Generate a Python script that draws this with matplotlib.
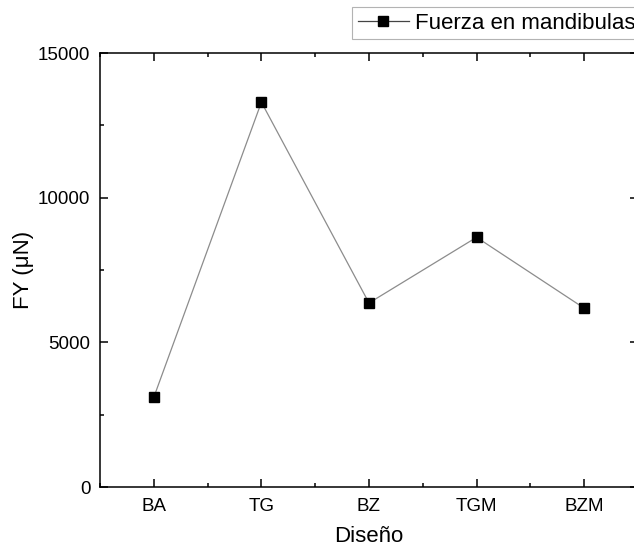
import matplotlib
matplotlib.use("Agg")
import matplotlib.pyplot as plt
from matplotlib.ticker import MultipleLocator

plt.rcParams['font.family'] = ['Liberation Sans', 'DejaVu Sans']

disenos = ["BA", "TG", "BZ", "TGM", "BZM"]
fuerza = [3100, 13300, 6360, 8630, 6180]

fig = plt.figure(figsize=(6.34, 5.51), dpi=100)
ax = fig.add_axes([100 / 634, 1 - 487 / 551, 538 / 634, 434 / 551])

x = list(range(1, len(disenos) + 1))
ax.plot(x, fuerza, color="#8c8c8c", linewidth=0.9, marker="s", markersize=7,
        markerfacecolor="black", markeredgecolor="black", label="Fuerza en mandibulas")

ax.set_xlim(0.5, 5.5)
ax.set_ylim(0, 15000)
ax.set_xticks(x)
ax.set_xticklabels(disenos)
ax.set_yticks([0, 5000, 10000, 15000])
ax.xaxis.set_minor_locator(MultipleLocator(0.5))
ax.yaxis.set_minor_locator(MultipleLocator(2500))

ax.tick_params(which="both", direction="in", top=True, right=True, labelsize=13.5, width=1.1)
ax.tick_params(which="major", length=6)
ax.tick_params(which="minor", length=3)
ax.tick_params(axis="x", which="major", pad=8)
ax.tick_params(axis="y", which="major", pad=7)
for s in ax.spines.values():
    s.set_linewidth(1.1)

ax.set_xlabel("Diseño", fontsize=16, labelpad=8)
ax.set_ylabel("FY (μN)", fontsize=16, labelpad=3)

leg = fig.legend(loc="upper left", bbox_to_anchor=(352 / 634, 1 - 7 / 551), fontsize=16,
                 frameon=True, fancybox=False, edgecolor="#a0a0a0", borderpad=0.25,
                 handlelength=2.3, handletextpad=0.3, borderaxespad=0)
leg.get_frame().set_linewidth(0.8)
leg.get_lines()[0].set_color("#444444")

fig.savefig("out.png", dpi=100)
